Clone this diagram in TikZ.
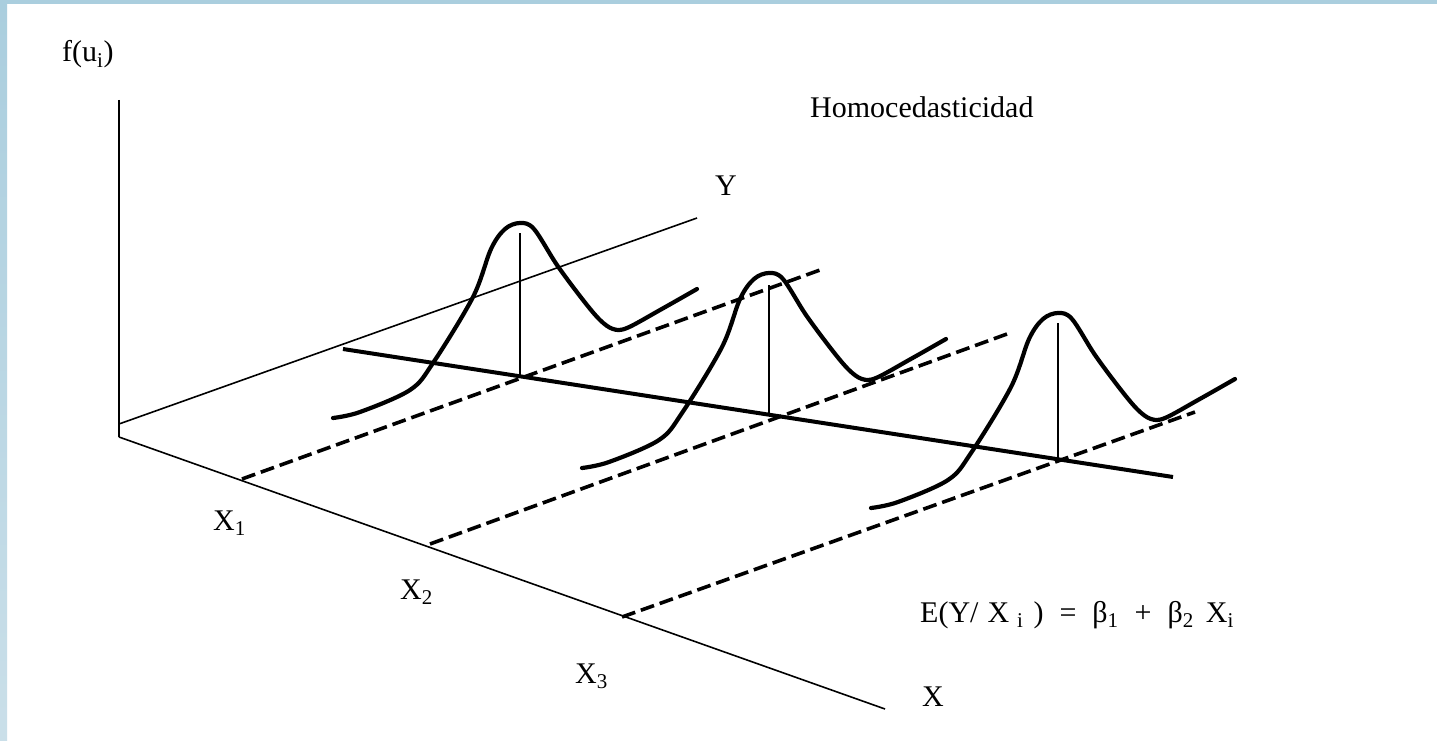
\documentclass[tikz,border=0pt]{standalone}
\usepackage{fontspec}
\setmainfont{Liberation Serif}
\definecolor{frameblue}{RGB}{170,206,222}
\definecolor{frameblueb}{RGB}{202,223,233}
\tikzset{
  axis/.style={line width=1.6pt},
  curve/.style={line width=4.2pt, line join=round, line cap=round},
  guide/.style={line width=3.6pt, dash pattern=on 14pt off 6pt},
  regline/.style={line width=4pt},
  drop/.style={line width=1.8pt},
  lbl/.style={inner sep=0pt, anchor=base west},
  bell/.pic={
    \draw[curve] plot[smooth, tension=0.55] coordinates {
      (-187,195) (-160,189) (-110,167) (-87,140) (-47,74) (-29,26) (-15,6)
      (0,0) (14,6) (37,42) (63,77) (80,97) (93,106) (107,105) (140,87) (177,66)};
  }
}
\begin{document}
\begin{tikzpicture}[x=1pt, y=-1pt, font=\fontsize{30}{36}\selectfont]
\useasboundingbox (0,0) rectangle (1437,741);
\fill[white] (0,0) rectangle (1437,741);
\fill[frameblue] (0,0) rectangle (1437,4);
\shade[top color=frameblue, bottom color=frameblueb] (0,0) rectangle (7,741);

% axes
\coordinate (O) at (119,437);
\coordinate (Vtop) at (119,100);
\coordinate (Ystart) at (119,424);
\coordinate (Yend) at (697,218);
\coordinate (Xend) at (885,709);
\draw[axis] (Vtop) -- (O);
\draw[axis] (Ystart) -- (Yend);
\draw[axis] (O) -- (Xend);

% labels
\node[lbl] (fu) at (62,62) {f(u\textsubscript{i})};
\node[lbl] (hom) at (810,118) {Homocedasticidad};
\node[lbl] (ylab) at (715,195) {Y};
\node[lbl] (xlab) at (922,706) {X};
\node[lbl] (x1) at (213,530) {X\textsubscript{1}};
\node[lbl] (x2) at (400,599) {X\textsubscript{2}};
\node[lbl] (x3) at (575,683) {X\textsubscript{3}};
\node[lbl] (elab) at (920,622) {E(Y/\hspace{9pt}X\hspace{8pt}\textsubscript{i}\hspace{10pt})\hspace{16pt}=\hspace{16pt}β\textsubscript{1}\hspace{16pt}+\hspace{16pt}β\textsubscript{2}\hspace{12pt}X\textsubscript{i}};

% dashed guides from the X axis
\coordinate (a1) at (242,479);
\coordinate (b1) at (820,270);
\coordinate (a2) at (430,544);
\coordinate (b2) at (1007,334);
\coordinate (a3) at (622,617);
\coordinate (b3) at (1195,412);
\draw[guide] (a1) -- (b1);
\draw[guide] (a2) -- (b2);
\draw[guide] (a3) -- (b3);

% regression line
\coordinate (r1) at (343,349);
\coordinate (r2) at (1173,477);
\draw[regline] (r1) -- (r2);

% bells
\pic at (520,223) {bell};
\pic at (769,273) {bell};
\pic at (1058,313) {bell};

% drop lines
\coordinate (t1) at (520,233);
\coordinate (m1) at (520,377);
\coordinate (t2) at (769,285);
\coordinate (m2) at (769,415);
\coordinate (t3) at (1058,323);
\coordinate (m3) at (1058,460);
\draw[drop] (t1) -- (m1);
\draw[drop] (t2) -- (m2);
\draw[drop] (t3) -- (m3);
\end{tikzpicture}
\end{document}
